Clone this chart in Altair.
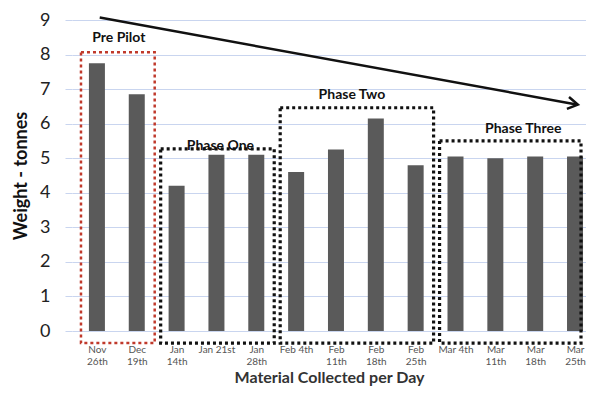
import json
import altair as alt
import pandas as pd

# ---- data ----
dates = ["Nov|26th", "Dec|19th", "Jan|14th", "Jan 21st", "Jan|28th", "Feb 4th",
         "Feb|11th", "Feb|18th", "Feb|25th", "Mar 4th", "Mar|11th", "Mar|18th", "Mar|25th"]
weights = [7.75, 6.85, 4.2, 5.1, 5.1, 4.6, 5.25, 6.15, 4.8, 5.05, 5.0, 5.05, 5.05]

phases = ["Pre Pilot", "Phase One", "Phase Two", "Phase Three"]
phase_first = [0, 2, 5, 9]
phase_last = [1, 4, 8, 12]
phase_top = [8.07, 5.27, 6.46, 5.5]
phase_label_x = [0.55, 3.1, 6.4, 10.7]
phase_label_y = [8.49, 5.36, 6.84, 5.86]
phase_color = ["#c0392b", "#111111", "#111111", "#111111"]
phase_width = [2.5, 3.2, 3.2, 3.2]

trend_x = [0.07, 12.07]
trend_y = [9.07, 6.55]

y_ticks = [0, 1, 2, 3, 4, 5, 6, 7, 8, 9]

X_MAX = 12.15
BOX_BOTTOM = -0.35

bars_df = pd.DataFrame({"idx": list(range(len(dates))), "weight": weights, "date": dates})
box_df = pd.DataFrame({
    "phase": phases,
    "x0": [f - 0.4 for f in phase_first],
    "x1": [min(l + 0.45, X_MAX) for l in phase_last],
    "top": phase_top,
    "bottom": [BOX_BOTTOM] * len(phases),
    "lx": phase_label_x,
    "ly": phase_label_y,
    "color": phase_color,
    "sw": phase_width,
})
trend_df = pd.DataFrame({"x": trend_x, "y": trend_y})

xscale = alt.Scale(domain=[-0.5, X_MAX], nice=False, zero=False)
yscale = alt.Scale(domain=[0, 9], nice=False, zero=True)

label_expr = "split(" + json.dumps(dates) + "[datum.value], '|')"

X_TITLE = "Material Collected per Day"
Y_TITLE = "Weight - tonnes"

x_axis = alt.Axis(
    values=list(range(len(dates))), labelExpr=label_expr,
    grid=False, ticks=False, domain=False,
    labelFontSize=10, labelColor="#555555", labelLineHeight=12, labelPadding=13,
    labelOverlap=False, labelFlush=False, labelBaseline="top",
    titleFontSize=16, titleFontWeight="bold", titleColor="#333333", titlePadding=3)
y_axis = alt.Axis(
    values=y_ticks, grid=True,
    gridColor="#c9d5ef", gridOpacity=1, tickColor="#c9d5ef", tickSize=7, domain=False,
    labelFontSize=18, labelColor="#222222", labelPadding=15, labelOverlap=False,
    titleFontSize=18, titleFontWeight="bold", titleColor="#111111", titlePadding=9)


def X(field):
    return alt.X(field, scale=xscale, title=X_TITLE, axis=x_axis)


def Y(field):
    return alt.Y(field, scale=yscale, title=Y_TITLE, axis=y_axis)


bars = alt.Chart(bars_df).mark_bar(size=16, color="#5a5a5a").encode(
    x=X("idx:Q"),
    y=Y("weight:Q"),
)

boxes = alt.Chart(box_df).mark_rect(filled=False, strokeDash=[3, 3]).encode(
    x=X("x0:Q"),
    x2="x1:Q",
    y=Y("top:Q"),
    y2="bottom:Q",
    stroke=alt.Stroke("color:N", scale=None),
    strokeWidth=alt.StrokeWidth("sw:Q", scale=None),
)

labels = alt.Chart(box_df).mark_text(
    fontSize=14, fontWeight="bold", color="#111111"
).encode(
    x=X("lx:Q"),
    y=Y("ly:Q"),
    text="phase:N",
)

trend = alt.Chart(trend_df).mark_line(color="#111111", strokeWidth=2.5).encode(
    x=X("x:Q"),
    y=Y("y:Q"),
)

head = alt.Chart(trend_df).transform_window(
    rn="row_number()"
).transform_filter("datum.rn == 2").mark_point(
    shape="M-1,-0.6L0,0L-1,0.6", size=400, filled=False, strokeWidth=2.5,
    color="#111111", angle=10.1, opacity=1
).encode(
    x=X("x:Q"),
    y=Y("y:Q"),
)

chart = alt.layer(bars, boxes, labels, trend, head).properties(
    width=514, height=311,
    autosize=alt.AutoSizeParams(type="none"),
    padding={"left": 64, "top": 12, "right": 0, "bottom": 60},
).configure(font="Lato", background="white").configure_view(stroke=None)

chart.save("out.html", embed_options={"renderer": "svg", "actions": False})
